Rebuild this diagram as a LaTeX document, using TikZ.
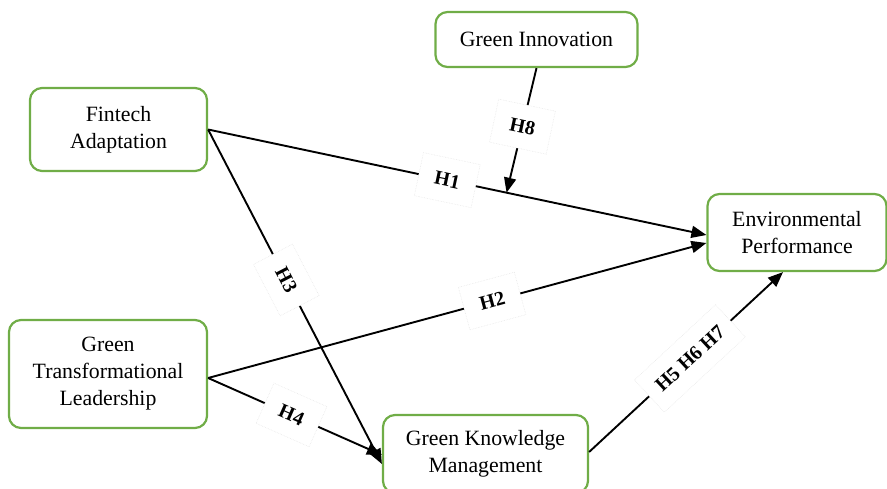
\documentclass[tikz,border=0pt]{standalone}
\usepackage{fontspec}
\setmainfont{Liberation Serif}
\usetikzlibrary{arrows.meta}
\definecolor{boxgreen}{RGB}{112,173,71}
\tikzset{
  concept/.style={draw=boxgreen, line width=2.2pt, rounded corners=12pt, fill=white,
    align=center, font=\fontsize{21.8}{27}\selectfont, inner sep=0pt},
  link/.style={line width=1.9pt, draw=black},
  arrowlink/.style={link, -{Triangle[length=15pt,width=12pt]}},
  hyp/.style={fill=white, draw=black!9, densely dotted, line width=0.6pt,
    font=\fontsize{20}{20}\selectfont\bfseries, minimum height=44pt, minimum width=58pt, inner xsep=12pt}
}
\begin{document}
\begin{tikzpicture}[x=1pt,y=-1pt]
\useasboundingbox (0,0) rectangle (887,489);
\clip (0,0) rectangle (887,489);
% concepts
\node[concept, minimum width=202pt, minimum height=55pt] (gi) at (536.5,39.5) {Green Innovation};
\node[concept, minimum width=177pt, minimum height=83pt] (fa) at (118.5,129.5) {Fintech\\Adaptation};
\node[concept, minimum width=179pt, minimum height=77pt] (ep) at (797,232.5) {Environmental\\Performance};
\node[concept, minimum width=198pt, minimum height=108pt] (gtl) at (108,374) {Green\\Transformational\\Leadership};
\node[concept, minimum width=205pt, minimum height=78pt] (gkm) at (485.5,454) {Green Knowledge\\Management};
% connectors
\draw[arrowlink] (fa.east) -- coordinate[pos=0.599] (h8end) ([yshift=-2.5pt]ep.west);
\draw[arrowlink] (gi.south) -- (h8end);
\draw[arrowlink] (fa.east) -- ([yshift=-10pt]gkm.west);
\draw[arrowlink] ([yshift=-4pt]gtl.east) -- ([yshift=-10.5pt]ep.west);
\draw[arrowlink] ([yshift=-4pt]gtl.east) -- ([yshift=-1pt]gkm.west);
\draw[arrowlink] ([yshift=2pt]gkm.east) -- ([xshift=-14pt]ep.south);
% hypothesis labels
\path (fa.east) -- node[hyp, sloped, pos=0.48] (h1) {H1} ([yshift=-2.5pt]ep.west);
\path (gi.south) -- node[hyp, rotate=-12, pos=0.47] (h8) {H8} (h8end);
\path (fa.east) -- node[hyp, sloped, pos=0.45] (h3) {H3} ([yshift=-10pt]gkm.west);
\path ([yshift=-4pt]gtl.east) -- node[hyp, sloped, pos=0.57] (h2) {H2} ([yshift=-10.5pt]ep.west);
\path ([yshift=-4pt]gtl.east) -- node[hyp, sloped, pos=0.48] (h4) {H4} ([yshift=-1pt]gkm.west);
\path ([yshift=2pt]gkm.east) -- node[hyp, sloped, pos=0.52] (h567) {H5 H6 H7} ([xshift=-14pt]ep.south);
\end{tikzpicture}
\end{document}
